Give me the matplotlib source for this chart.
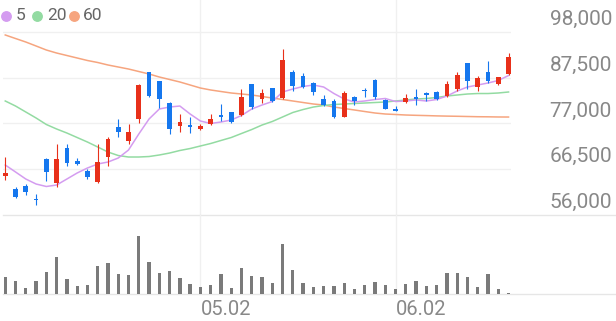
"""
plot.py
Daily candlestick chart with 5/20/60 moving averages and volume panel.
"""
import matplotlib
matplotlib.use("Agg")
import matplotlib.pyplot as plt
import numpy as np
from matplotlib.lines import Line2D

# ── Data ────────────────────────────────────────────────────────────────────
opens = [64970, 61900, 62750, 59650, 68800, 63450, 71300, 68500, 66100, 63500,
         69400, 76250, 73000, 77950, 88700, 86650, 81750, 76400, 76650, 75750,
         76850, 78950, 79550, 79000, 85950, 82500, 85050, 82750, 88850, 87850,
         86200, 82650, 82150, 78550, 83050, 84650, 86850, 82350, 80300, 81900,
         82950, 84050, 84100, 83300, 84900, 90750, 85400, 88850, 85950, 88300]
highs = [69400, 62350, 63050, 60750, 69150, 72300, 72300, 69100, 66500, 72300,
         73800, 77950, 76850, 85950, 88850, 86800, 81900, 79150, 78550, 76850,
         79100, 81450, 79600, 84950, 86050, 84800, 85100, 94050, 89250, 88450,
         86500, 83500, 82500, 84350, 83300, 85050, 87100, 82600, 81000, 83750,
         84950, 84200, 84350, 86700, 88850, 90900, 87850, 91350, 87700, 93050]
lows = [64050, 59950, 60600, 58350, 63800, 62550, 67350, 67550, 64350, 63300,
        67350, 73950, 72300, 77050, 83150, 80550, 74500, 75050, 74750, 75600,
        76700, 77550, 77200, 78800, 80400, 81600, 81850, 82500, 84500, 85050,
        83600, 81000, 78150, 78400, 81150, 83150, 82650, 80250, 79900, 81750,
        81300, 82150, 82350, 83050, 84350, 84900, 84500, 86200, 85900, 88100]
closes = [65750, 60100, 61250, 59400, 65800, 68800, 67850, 67650, 64650, 68250,
          73450, 75100, 74950, 85800, 83300, 82500, 75800, 77250, 76200, 76400,
          77950, 78450, 77400, 83150, 80850, 83950, 82050, 91600, 85550, 85400,
          84250, 81200, 78400, 83900, 82150, 84450, 83000, 80300, 79900, 82800,
          82600, 83450, 82650, 85950, 88100, 86700, 87500, 86800, 87550, 92300]
volumes = [167000, 130000, 63000, 130000, 217000, 373000, 147000, 77000, 90000, 277000,
           310000, 197000, 187000, 583000, 317000, 207000, 233000, 157000, 97000, 70000,
           90000, 197000, 60000, 257000, 178000, 173000, 110000, 500000, 243000, 110000,
           73000, 80000, 83000, 110000, 53000, 90000, 123000, 87000, 47000, 97000,
           133000, 83000, 93000, 210000, 207000, 170000, 73000, 200000, 53000, 13000]

ma5 = [67490, 65890, 64280, 63140, 62570, 62910, 64280, 65660, 66800, 67720,
       68170, 69090, 70920, 74580, 78020, 80310, 80760, 80990, 79160, 77560,
       76990, 77330, 77790, 78820, 80310, 81220, 82020, 84200, 84880, 85460,
       85800, 85340, 83850, 82600, 81910, 82140, 82480, 82710, 82020, 82140,
       82370, 82140, 82480, 83280, 84430, 85340, 85800, 86260, 86830, 87970]
ma20 = [82140, 80990, 79620, 78250, 76760, 75730, 74810, 73780, 72750, 71610,
        70460, 69660, 69320, 69320, 69430, 69780, 70230, 70810, 71260, 71840,
        72410, 73100, 73780, 74700, 75610, 76640, 77450, 78480, 79510, 80190,
        80760, 81110, 81340, 81450, 81570, 81680, 81790, 81910, 82140, 82370,
        82600, 82710, 82940, 83280, 83510, 83740, 83850, 83850, 83970, 84200]
ma60 = [97250, 96440, 95640, 94730, 93810, 93120, 92550, 91980, 91410, 90950,
        90380, 89920, 89460, 88890, 88320, 87630, 87060, 86490, 85800, 85110,
        84660, 84310, 83970, 83740, 83510, 83170, 82820, 82480, 82140, 81790,
        81450, 81220, 80760, 80420, 80080, 79730, 79390, 79160, 79050, 78930,
        78860, 78800, 78730, 78680, 78640, 78590, 78540, 78520, 78480, 78470]

price_ticks = [56000, 66500, 77000, 87500, 98000]
date_ticks = {19: "05.02", 38: "06.02"}

# ── Colour palette ──────────────────────────────────────────────────────────
_PALETTE = {
    "up": "#e8301a",
    "down": "#1577ee",
    "ma5": "#d49cf0",
    "ma20": "#93dba2",
    "ma60": "#f6a57f",
    "volume": "#7a7a7a",
    "grid": "#f0f0f0",
    "rule": "#e6e6e6",
    "label": "#888888",
    "legend": "#666666",
}

W, H = 616, 321
plt.rcParams["font.family"] = ["Roboto", "DejaVu Sans"]

fig = plt.figure(figsize=(W / 100, H / 100), dpi=100)

# plot area in pixels: x 3..511, price 0..215, volume 215..294
x0, x1 = 3, 511
ax = fig.add_axes([x0 / W, 1 - 215.2 / H, (x1 - x0) / W, 215.2 / H])
axv = fig.add_axes([x0 / W, 1 - 294 / H, (x1 - x0) / W, 78.8 / H])

idx = np.arange(len(closes))
o, h, l, c = (np.array(a) for a in (opens, highs, lows, closes))
up = c >= o
colors = np.where(up, _PALETTE["up"], _PALETTE["down"])

# moving averages
ax.plot(idx, ma60, color=_PALETTE["ma60"], lw=1.1, zorder=2)
ax.plot(idx, ma20, color=_PALETTE["ma20"], lw=1.1, zorder=2)
ax.plot(idx, ma5, color=_PALETTE["ma5"], lw=1.1, zorder=2)

# candles
ax.vlines(idx, l, h, colors=colors, lw=0.8, zorder=3)
body = np.maximum(np.abs(c - o), 150)
ax.bar(idx, body, bottom=np.minimum(o, c), width=0.46, color=colors,
       lw=0, zorder=4)

# volume
axv.bar(idx, volumes, width=0.32, color=_PALETTE["volume"], lw=0, zorder=3)

xlim = (-0.22, 49.24)
for a in (ax, axv):
    a.set_facecolor("none")
    a.set_xlim(*xlim)
    for s in a.spines.values():
        s.set_visible(False)
    a.set_xticks([])
    a.tick_params(length=0, labelleft=False, labelbottom=False)
    for k in date_ticks:
        a.axvline(k, color=_PALETTE["grid"], lw=1.0, zorder=0)

ax.set_ylim(56000, 56000 + 215.2 * (42000 / 183.5))
ax.set_yticks(price_ticks[1:])
ax.grid(True, axis="y", color=_PALETTE["grid"], lw=1.0, zorder=0)
axv.set_ylim(0, 788000)
axv.set_yticks([])

# full-width separator and volume baseline
span = (W - x0) / (x1 - x0)
ax.axhline(56000, xmin=0, xmax=span, color=_PALETTE["rule"], lw=1.0,
           clip_on=False, zorder=1)
axv.axhline(0, xmin=0, xmax=span, color=_PALETTE["rule"], lw=1.0,
            clip_on=False, zorder=1)

# price labels on the right
for v in price_ticks:
    ax.annotate(f"{v:,}", xy=(612, v), xycoords=("figure pixels", "data"),
                xytext=(0, 3), textcoords="offset pixels", ha="right",
                va="bottom", fontsize=15, color=_PALETTE["label"],
                annotation_clip=False)

# date labels
for k, lab in date_ticks.items():
    axv.annotate(lab, xy=(k, 0), xycoords="data", xytext=(0, -6),
                 textcoords="offset pixels", ha="left", va="top",
                 fontsize=14.5, color=_PALETTE["label"], annotation_clip=False)

# legend
ly = 1 - 15.7 / H
for cx, tx, lab, key in ((6, 16, "5", "ma5"), (37, 47, "20", "ma20"),
                         (74, 83, "60", "ma60")):
    fig.add_artist(Line2D([cx / W], [ly], marker="o", ms=6.8, lw=0,
                          color=_PALETTE[key], transform=fig.transFigure))
    fig.text(tx / W, ly, lab, ha="left", va="center", fontsize=12.5,
             color=_PALETTE["legend"])

plt.savefig("out.png", dpi=100)
plt.close()
